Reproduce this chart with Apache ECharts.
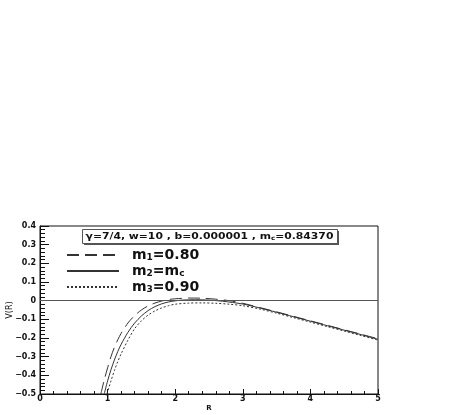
<!DOCTYPE html>
<html>
<head>
<meta charset="utf-8">
<script src="https://cdn.jsdelivr.net/npm/echarts@6/dist/echarts.min.js"></script>
<style>html,body{margin:0;padding:0;background:#fff}#c{width:457px;height:415px}</style>
</head>
<body>
<div id="c"></div>
<script>
// ---- data ----
const xTicks = [0, 1, 2, 3, 4, 5];
const yTicks = [-0.5, -0.4, -0.3, -0.2, -0.1, 0, 0.1, 0.2, 0.3, 0.4];
const seriesNames = ['m1', 'm2', 'm3'];
const headerText = ['γ=7/4, w=10 , b=0.000001 , m', 'c', '=0.84370'];

const rM1 = [0.90, 0.95, 1.00, 1.05, 1.10, 1.15, 1.20, 1.30, 1.40, 1.50, 1.60, 1.70, 1.80, 1.90, 2.00, 2.20, 2.40, 2.60, 2.80, 3.00, 3.25, 3.50, 3.75, 4.00, 4.25, 4.50, 4.75, 5.00];
const vM1 = [-0.50, -0.425, -0.36, -0.30, -0.25, -0.21, -0.175, -0.12, -0.080, -0.050, -0.028, -0.013, -0.002, 0.006, 0.010, 0.014, 0.013, 0.008, 0.000, -0.014, -0.037, -0.060, -0.084, -0.108, -0.132, -0.156, -0.180, -0.204];

const rM2 = [0.95, 1.00, 1.05, 1.10, 1.15, 1.20, 1.30, 1.40, 1.50, 1.60, 1.70, 1.80, 1.90, 2.00, 2.10, 2.30, 2.50, 2.70, 3.00, 3.25, 3.50, 3.75, 4.00, 4.25, 4.50, 4.75, 5.00];
const vM2 = [-0.50, -0.43, -0.37, -0.318, -0.273, -0.234, -0.170, -0.120, -0.082, -0.053, -0.032, -0.017, -0.007, -0.001, 0.003, 0.005, 0.003, -0.003, -0.018, -0.039, -0.062, -0.086, -0.110, -0.134, -0.158, -0.182, -0.207];

const rM3 = [0.99, 1.05, 1.10, 1.15, 1.20, 1.30, 1.40, 1.50, 1.60, 1.70, 1.80, 1.90, 2.00, 2.20, 2.40, 2.60, 2.80, 3.00, 3.25, 3.50, 3.75, 4.00, 4.25, 4.50, 4.75, 5.00];
const vM3 = [-0.50, -0.43, -0.375, -0.327, -0.285, -0.212, -0.150, -0.108, -0.077, -0.055, -0.039, -0.027, -0.019, -0.013, -0.012, -0.014, -0.019, -0.027, -0.045, -0.067, -0.091, -0.115, -0.139, -0.163, -0.187, -0.211];

const zip = (r, v) => r.map((x, i) => [x, v[i]]);
const fmtNum = v => {
  const s = (Math.round(v * 10) / 10).toString();
  return s.replace('-', '\u2212');
};

const lineColor = '#333';
const chart = echarts.init(document.getElementById('c'), null, {renderer: 'canvas'});
const option = {
  animation: false,
  backgroundColor: '#fff',
  grid: {left: 40, right: 79, top: 226, bottom: 21, show: true, borderColor: '#111', borderWidth: 1,
         containLabel: false, outerBoundsMode: 'none'},
  xAxis: {
    type: 'value', min: xTicks[0], max: xTicks[xTicks.length - 1], interval: 1,
    name: 'R', nameLocation: 'middle', nameGap: 11, nameMoveOverlap: false,
    nameTextStyle: {fontFamily: 'DejaVu Sans', fontWeight: 'bold', fontSize: 7, color: '#111'},
    axisLine: {show: true, onZero: false, lineStyle: {color: '#111', width: 1}},
    axisTick: {show: true, inside: true, length: 5, lineStyle: {color: '#111'}},
    minorTick: {show: true, splitNumber: 5, length: 3, lineStyle: {color: '#111'}},
    splitLine: {show: false},
    axisLabel: {margin: 1, fontFamily: 'DejaVu Sans', fontWeight: 'bold', fontSize: 8, color: '#111', formatter: v => String(v)}
  },
  yAxis: {
    type: 'value', min: yTicks[0], max: yTicks[yTicks.length - 1], interval: 0.1,
    name: 'V(R)', nameLocation: 'middle', nameGap: 26, nameMoveOverlap: false,
    nameTextStyle: {fontFamily: 'DejaVu Sans', fontSize: 8, color: '#111'},
    axisLine: {show: true, onZero: false, lineStyle: {color: '#111', width: 1}},
    axisTick: {show: true, inside: true, length: 9, lineStyle: {color: '#111'}},
    minorTick: {show: true, splitNumber: 5, length: 5, lineStyle: {color: '#111'}},
    splitLine: {show: false},
    axisLabel: {margin: 4, fontFamily: 'DejaVu Sans', fontWeight: 'bold', fontSize: 8, color: '#111', formatter: fmtNum}
  },
  legend: {
    orient: 'vertical', left: 66, top: 245, padding: 0, itemGap: -1,
    itemWidth: 52, itemHeight: 14,
    data: seriesNames,
    itemStyle: {color: 'rgba(0,0,0,0)', borderColor: 'rgba(0,0,0,0)', borderWidth: 0},
    textStyle: {
      fontFamily: 'DejaVu Sans', fontWeight: 'bold', fontSize: 14, color: '#111', padding: [0, 0, 0, 8],
      rich: {
        b: {fontFamily: 'DejaVu Sans', fontWeight: 'bold', fontSize: 14, color: '#111', lineHeight: 14, verticalAlign: 'bottom'},
        s: {fontFamily: 'DejaVu Sans', fontWeight: 'bold', fontSize: 9, color: '#111', lineHeight: 6, padding: [8, 0, 0, 0], verticalAlign: 'bottom'}
      }
    },
    formatter: name => {
      if (name === 'm1') return '{b|m}{s|1}{b|=0.80}';
      if (name === 'm2') return '{b|m}{s|2}{b|=m}{s|c}';
      return '{b|m}{s|3}{b|=0.90}';
    }
  },
  series: [
    {name: 'm1', type: 'line', data: zip(rM1, vM1), smooth: 0.3, symbol: 'none', clip: true,
     lineStyle: {color: lineColor, width: 1, type: [12, 6]}, itemStyle: {color: lineColor}},
    {name: 'm2', type: 'line', data: zip(rM2, vM2), smooth: 0.3, symbol: 'none', clip: true,
     lineStyle: {color: lineColor, width: 1, type: 'solid'}, itemStyle: {color: lineColor},
     markLine: {silent: true, symbol: ['none', 'none'], label: {show: false},
       lineStyle: {color: '#555', width: 1, type: 'solid'}, data: [{yAxis: 0}]}},
    {name: 'm3', type: 'line', data: zip(rM3, vM3), smooth: 0.3, symbol: 'none', clip: true,
     lineStyle: {color: lineColor, width: 1, type: [2, 2]}, itemStyle: {color: lineColor}}
  ],
  graphic: [
    {type: 'rect', left: 84, top: 231, shape: {width: 255, height: 14}, style: {fill: '#555'}, silent: true},
    {type: 'rect', left: 82, top: 229, shape: {width: 255, height: 14}, style: {fill: '#fff', stroke: '#555', lineWidth: 1}, silent: true},
    {type: 'text', x: 209.5, y: 236, scaleX: 1.2, originX: 0, originY: 0,
     style: {
       text: '{t|' + headerText[0] + '}{s|' + headerText[1] + '}{t|' + headerText[2] + '}',
       align: 'center', verticalAlign: 'middle',
       rich: {
         t: {fontFamily: 'DejaVu Sans', fontWeight: 'bold', fontSize: 9, fill: '#111', lineHeight: 11, verticalAlign: 'bottom'},
         s: {fontFamily: 'DejaVu Sans', fontWeight: 'bold', fontSize: 6, fill: '#111', lineHeight: 6, padding: [5, 0, 0, 0], verticalAlign: 'bottom'}
       }
     }, silent: true}
  ]
};
chart.setOption(option);
</script>
</body>
</html>
